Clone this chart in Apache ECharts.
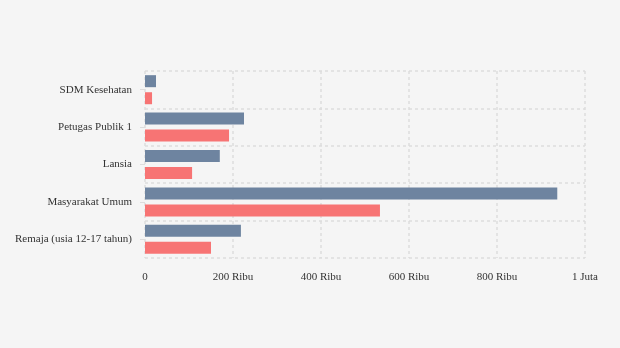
<!DOCTYPE html>
<html><head><meta charset="utf-8">
<script src="https://cdn.jsdelivr.net/npm/echarts@6/dist/echarts.min.js"></script>
<style>html,body{margin:0;padding:0;background:#f5f5f5}#c{width:620px;height:348px}</style>
</head><body><div id="c"></div>
<script>
var categories = ["Remaja (usia 12-17 tahun)", "Masyarakat Umum", "Lansia", "Petugas Publik 1", "SDM Kesehatan"];
var seriesA = [218000, 937000, 170000, 225000, 25000];
var seriesB = [150000, 534000, 107000, 191000, 16000];
var xTicks = {0: "0", 200000: "200 Ribu", 400000: "400 Ribu", 600000: "600 Ribu", 800000: "800 Ribu", 1000000: "1 Juta"};

var chart = echarts.init(document.getElementById('c'));
var dash = {color: '#dddddd', width: 1.5, type: [3, 3]};
chart.setOption({
  backgroundColor: '#f5f5f5',
  animation: false,
  textStyle: {fontFamily: 'Liberation Serif'},
  grid: {left: 145, right: 35, top: 71, bottom: 90, containLabel: false},
  xAxis: {
    type: 'value', min: 0, max: 1000000, interval: 200000,
    axisLine: {show: false}, axisTick: {show: false},
    axisLabel: {margin: 14, color: '#333', fontSize: 11, fontFamily: 'Liberation Serif',
      formatter: function (v) { return xTicks[v] !== undefined ? xTicks[v] : v; }},
    splitLine: {show: true, lineStyle: dash}
  },
  yAxis: {
    type: 'category', data: categories,
    axisLine: {show: false},
    axisTick: {show: true, alignWithLabel: true, length: 5, lineStyle: {color: '#dddddd'}},
    axisLabel: {margin: 13, color: '#333', fontSize: 11, fontFamily: 'Liberation Serif', lineHeight: 14, padding: [3, 0, 0, 0]},
    splitLine: {show: true, lineStyle: dash}
  },
  series: [
    {type: 'bar', data: seriesA, barWidth: 12, barGap: '42%', itemStyle: {color: '#6e84a0'}},
    {type: 'bar', data: seriesB, barWidth: 12, barGap: '42%', itemStyle: {color: '#f77474'}}
  ]
});
</script></body></html>
